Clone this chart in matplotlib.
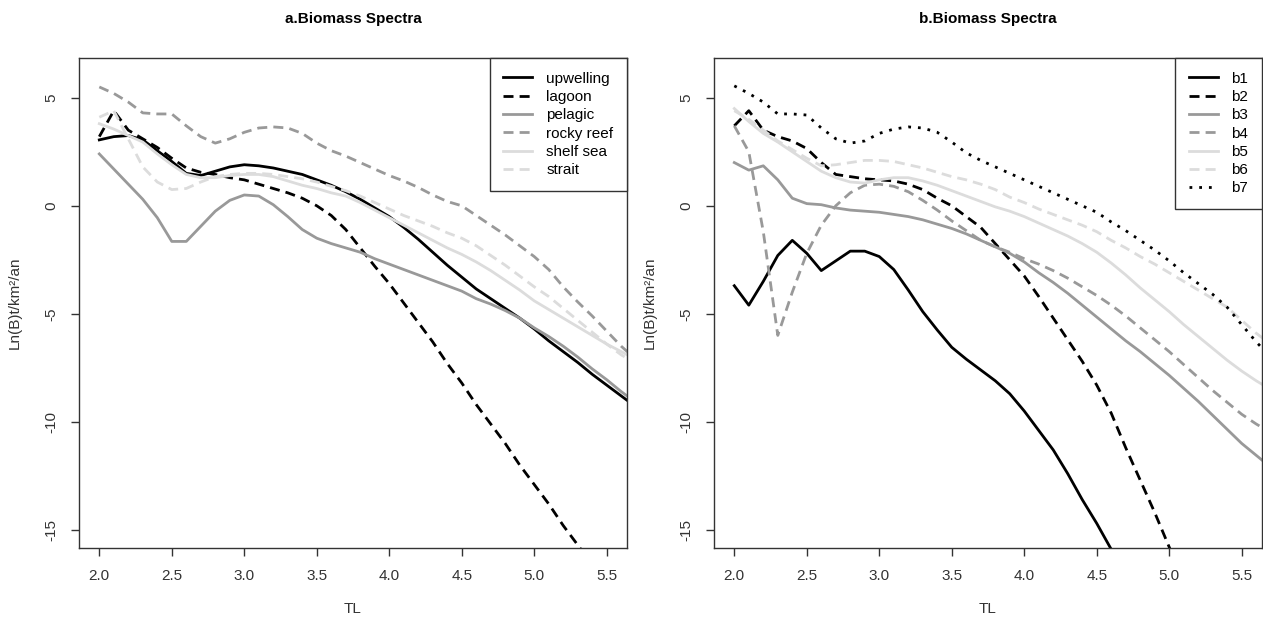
import matplotlib
matplotlib.use('Agg')
import matplotlib.pyplot as plt

plt.rcParams['font.family'] = ['Liberation Sans', 'DejaVu Sans']

# trophic levels (x axis)
tl = [2.0, 2.1, 2.2, 2.3, 2.4, 2.5, 2.6, 2.7, 2.8, 2.9,
      3.0, 3.1, 3.2, 3.3, 3.4, 3.5, 3.6, 3.7, 3.8, 3.9,
      4.0, 4.1, 4.2, 4.3, 4.4, 4.5, 4.6, 4.7, 4.8, 4.9,
      5.0, 5.1, 5.2, 5.3, 5.4, 5.5, 5.6, 5.7]

# panel a: ecosystem types
upwelling = [3.05, 3.2, 3.25, 3.05, 2.55, 2.05, 1.5, 1.4, 1.6, 1.8,
             1.9, 1.85, 1.75, 1.6, 1.45, 1.2, 0.95, 0.65, 0.3, -0.1,
             -0.5, -1.0, -1.55, -2.15, -2.75, -3.3, -3.85, -4.3, -4.75, -5.2,
             -5.7, -6.25, -6.75, -7.25, -7.8, -8.3, -8.8, -9.3]
lagoon = [3.2, 4.4, 3.5, 3.1, 2.7, 2.2, 1.75, 1.55, 1.45, 1.3,
          1.2, 1.0, 0.8, 0.6, 0.35, 0.0, -0.45, -1.1, -1.95, -2.8,
          -3.6, -4.5, -5.4, -6.3, -7.3, -8.2, -9.2, -10.1, -11.0, -12.0,
          -12.9, -13.8, -14.8, -15.7, -16.6]
pelagic = [2.4, 1.7, 1.0, 0.3, -0.55, -1.65, -1.65, -0.95, -0.25, 0.25,
           0.5, 0.45, 0.05, -0.5, -1.1, -1.5, -1.75, -1.95, -2.15, -2.45,
           -2.7, -2.95, -3.2, -3.45, -3.7, -3.95, -4.3, -4.55, -4.85, -5.2,
           -5.65, -6.05, -6.5, -7.0, -7.55, -8.05, -8.6, -9.1]
rocky_reef = [5.5, 5.2, 4.8, 4.3, 4.25, 4.25, 3.7, 3.2, 2.9, 3.1,
              3.4, 3.6, 3.65, 3.6, 3.35, 2.9, 2.55, 2.3, 2.0, 1.7,
              1.4, 1.15, 0.85, 0.5, 0.2, 0.0, -0.45, -0.9, -1.35, -1.85,
              -2.35, -2.95, -3.75, -4.45, -5.1, -5.8, -6.5, -7.1]
shelf_sea = [3.8, 3.55, 3.25, 2.95, 2.4, 1.9, 1.45, 1.3, 1.3, 1.4,
             1.45, 1.45, 1.35, 1.15, 0.95, 0.8, 0.6, 0.45, 0.15, -0.2,
             -0.55, -0.9, -1.25, -1.6, -1.95, -2.25, -2.6, -3.0, -3.45, -3.9,
             -4.4, -4.8, -5.2, -5.6, -6.0, -6.4, -6.75, -7.1]
strait = [4.1, 4.4, 3.1, 1.8, 1.1, 0.75, 0.8, 1.1, 1.35, 1.45,
          1.5, 1.5, 1.45, 1.35, 1.25, 1.1, 0.9, 0.7, 0.45, 0.15,
          -0.15, -0.45, -0.7, -0.95, -1.25, -1.5, -1.85, -2.3, -2.75, -3.25,
          -3.75, -4.2, -4.75, -5.3, -5.85, -6.4, -6.9, -7.3]

# panel b: groups b1..b7
b1 = [-3.7, -4.6, -3.5, -2.3, -1.6, -2.2, -3.0, -2.55, -2.1, -2.1,
      -2.35, -2.95, -3.9, -4.9, -5.75, -6.55, -7.1, -7.6, -8.1, -8.7,
      -9.5, -10.4, -11.3, -12.4, -13.6, -14.7, -15.9, -17.1]
b2 = [3.7, 4.4, 3.5, 3.2, 3.0, 2.65, 2.0, 1.45, 1.35, 1.25,
      1.2, 1.15, 1.0, 0.75, 0.35, 0.0, -0.5, -1.0, -1.75, -2.5,
      -3.25, -4.2, -5.2, -6.2, -7.2, -8.3, -9.6, -11.2, -12.7, -14.2,
      -15.8, -17.3]
b3 = [2.0, 1.65, 1.85, 1.2, 0.35, 0.1, 0.05, -0.1, -0.2, -0.25,
      -0.3, -0.4, -0.5, -0.65, -0.85, -1.05, -1.3, -1.6, -1.9, -2.2,
      -2.6, -3.1, -3.55, -4.05, -4.6, -5.15, -5.7, -6.25, -6.75, -7.3,
      -7.85, -8.45, -9.05, -9.7, -10.35, -11.0, -11.55, -12.1]
b4 = [3.7, 2.5, -1.2, -6.0, -4.0, -2.2, -0.9, 0.0, 0.6, 0.95,
      1.0, 0.9, 0.65, 0.25, -0.2, -0.7, -1.15, -1.6, -1.9, -2.15,
      -2.45, -2.7, -3.0, -3.35, -3.75, -4.15, -4.6, -5.1, -5.65, -6.2,
      -6.75, -7.35, -7.95, -8.55, -9.1, -9.65, -10.1, -10.5]
b5 = [4.5, 3.9, 3.35, 2.95, 2.5, 2.05, 1.6, 1.3, 1.1, 1.05,
      1.2, 1.3, 1.3, 1.15, 0.95, 0.7, 0.45, 0.2, -0.05, -0.25,
      -0.5, -0.8, -1.1, -1.4, -1.75, -2.15, -2.65, -3.2, -3.8, -4.35,
      -4.9, -5.5, -6.05, -6.6, -7.15, -7.65, -8.1, -8.5]
b6 = [4.4, 4.0, 3.5, 3.0, 2.6, 2.2, 1.85, 1.9, 2.0, 2.1,
      2.1, 2.05, 1.9, 1.75, 1.55, 1.35, 1.2, 1.0, 0.75, 0.4,
      0.15, -0.15, -0.4, -0.65, -0.9, -1.2, -1.6, -1.95, -2.35, -2.7,
      -3.1, -3.5, -3.9, -4.3, -4.7, -5.3, -5.9, -6.4]
b7 = [5.55, 5.2, 4.8, 4.25, 4.25, 4.2, 3.6, 3.1, 2.9, 3.0,
      3.35, 3.55, 3.65, 3.6, 3.4, 2.95, 2.45, 2.1, 1.8, 1.5,
      1.2, 0.9, 0.6, 0.3, 0.0, -0.3, -0.75, -1.15, -1.6, -2.05,
      -2.55, -3.1, -3.6, -4.1, -4.7, -5.5, -6.3, -7.0]

labels_a = ['upwelling', 'lagoon', 'pelagic', 'rocky reef', 'shelf sea', 'strait']
labels_b = ['b1', 'b2', 'b3', 'b4', 'b5', 'b6', 'b7']
x_ticks = [2.0, 2.5, 3.0, 3.5, 4.0, 4.5, 5.0, 5.5]
y_ticks = [-15, -10, -5, 0, 5]

DARK, GREY, LIGHT = '#000000', '#999999', '#dcdcdc'
SOLID, DASH, DOT = None, (3.6, 2.2), (1, 2.5)
styles = [(DARK, SOLID), (DARK, DASH), (GREY, SOLID), (GREY, DASH),
          (LIGHT, SOLID), (LIGHT, DASH), (DARK, DOT)]


def draw_panel(ax, series, labels, title):
    for vals, lab, (col, dash) in zip(series, labels, styles):
        line, = ax.plot(tl[:len(vals)], vals, color=col, lw=2, label=lab)
        if dash is not None:
            line.set_dashes(dash)
    ax.set_xlim(1.86, 5.64)
    ax.set_ylim(-15.84, 6.84)
    ax.set_xticks(x_ticks)
    ax.set_xticklabels([f'{v:.1f}' for v in x_ticks])
    ax.set_yticks(y_ticks)
    ax.set_yticklabels([str(v) for v in y_ticks])
    ax.tick_params(direction='out', length=6, width=1, pad=9,
                   labelsize=11, colors='#333333')
    for lab in ax.get_yticklabels():
        lab.set_rotation(90)
        lab.set_va('center')
    for sp in ax.spines.values():
        sp.set_color('#333333')
        sp.set_linewidth(1)
    ax.set_title(title, fontsize=11, fontweight='bold', pad=25)
    ax.set_xlabel('TL', fontsize=11, color='#333333', labelpad=14)
    ax.set_ylabel('Ln(B)t/km²/an', fontsize=11, color='#333333', labelpad=16)
    leg = ax.legend(loc='upper right', borderaxespad=0, fancybox=False,
                    framealpha=1, edgecolor='#333333', fontsize=11,
                    handlelength=1.9, handletextpad=0.9, labelspacing=0.28,
                    borderpad=0.9)
    leg.get_frame().set_linewidth(1)


fig = plt.figure(figsize=(12.63, 6.25), dpi=100)
ax1 = fig.add_axes([79 / 1263, 1 - 548 / 625, 548 / 1263, 490 / 625])
ax2 = fig.add_axes([714 / 1263, 1 - 548 / 625, 548 / 1263, 490 / 625])

draw_panel(ax1, [upwelling, lagoon, pelagic, rocky_reef, shelf_sea, strait],
           labels_a, 'a.Biomass Spectra')
draw_panel(ax2, [b1, b2, b3, b4, b5, b6, b7], labels_b, 'b.Biomass Spectra')

fig.savefig('out.png', dpi=100)
